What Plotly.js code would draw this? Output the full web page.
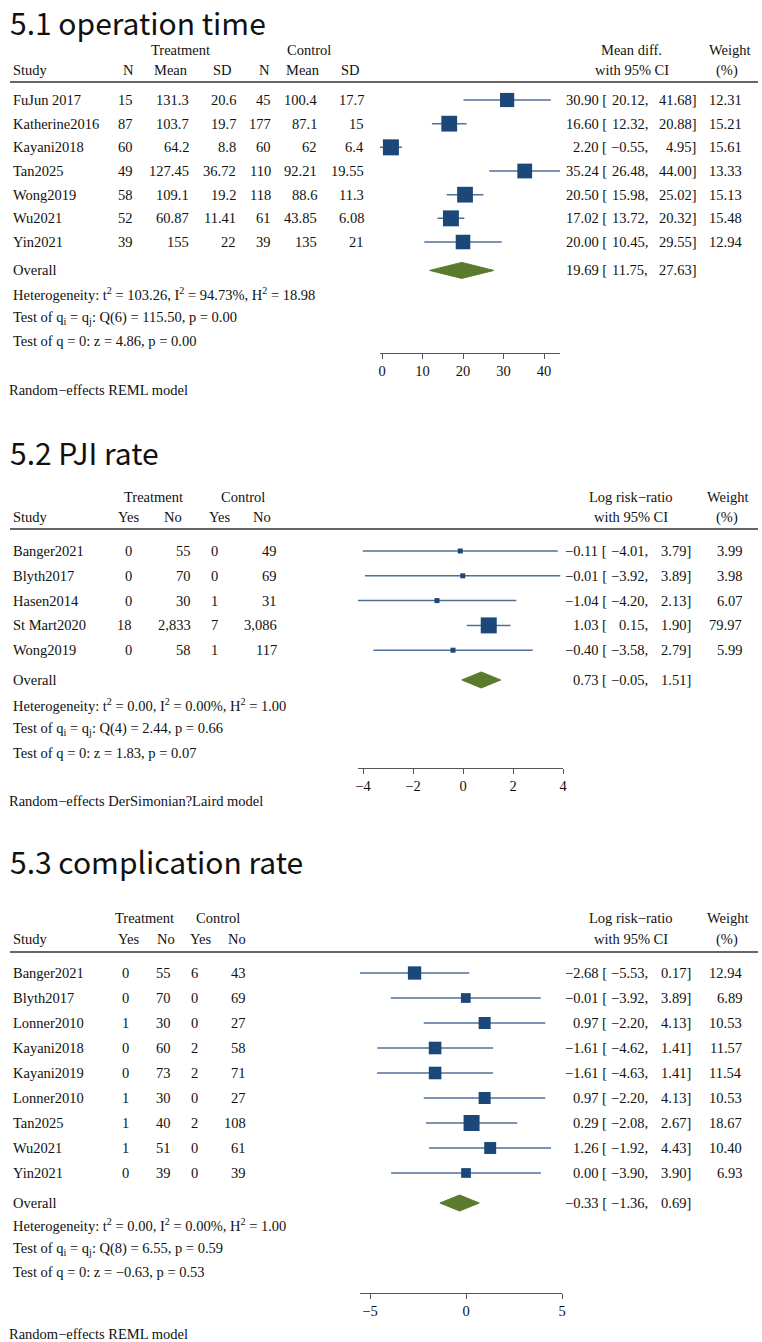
<!DOCTYPE html>
<html><head><meta charset="utf-8">
<script src="https://cdn.plot.ly/plotly-3.0.1.min.js"></script>
<style>html,body{margin:0;padding:0;background:#fff;}#chart{width:762px;height:1342px;}</style>
</head><body><div id="chart"></div>
<script>
// ---------- 5.1 operation time ----------
const opStudy = ["FuJun 2017","Katherine2016","Kayani2018","Tan2025","Wong2019","Wu2021","Yin2021"];
const opTN = [15,87,60,49,58,52,39];
const opTMean = [131.3,103.7,64.2,127.45,109.1,60.87,155];
const opTSD = [20.6,19.7,8.8,36.72,19.2,11.41,22];
const opCN = [45,177,60,110,118,61,39];
const opCMean = [100.4,87.1,62,92.21,88.6,43.85,135];
const opCSD = [17.7,15,6.4,19.55,11.3,6.08,21];
const opEst = [30.90,16.60,2.20,35.24,20.50,17.02,20.00];
const opLo = [20.12,12.32,-0.55,26.48,15.98,13.72,10.45];
const opHi = [41.68,20.88,4.95,44.00,25.02,20.32,29.55];
const opW = [12.31,15.21,15.61,13.33,15.13,15.48,12.94];
const opOverall = [19.69,11.75,27.63];
const opTicks = [0,10,20,30,40];
const opHet = ["103.26","94.73","18.98"];
const opQ = ["6","115.50","0.00"];
const opZ = ["4.86","0.00"];

// ---------- 5.2 PJI rate ----------
const pjStudy = ["Banger2021","Blyth2017","Hasen2014","St Mart2020","Wong2019"];
const pjTYes = [0,0,0,18,0];
const pjTNo = [55,70,30,2833,58];
const pjCYes = [0,0,1,7,1];
const pjCNo = [49,69,31,3086,117];
const pjEst = [-0.11,-0.01,-1.04,1.03,-0.40];
const pjLo = [-4.01,-3.92,-4.20,0.15,-3.58];
const pjHi = [3.79,3.89,2.13,1.90,2.79];
const pjW = [3.99,3.98,6.07,79.97,5.99];
const pjOverall = [0.73,-0.05,1.51];
const pjTicks = [-4,-2,0,2,4];
const pjHet = ["0.00","0.00","1.00"];
const pjQ = ["4","2.44","0.66"];
const pjZ = ["1.83","0.07"];

// ---------- 5.3 complication rate ----------
const cpStudy = ["Banger2021","Blyth2017","Lonner2010","Kayani2018","Kayani2019","Lonner2010","Tan2025","Wu2021","Yin2021"];
const cpTYes = [0,0,1,0,0,1,1,1,0];
const cpTNo = [55,70,30,60,73,30,40,51,39];
const cpCYes = [6,0,0,2,2,0,2,0,0];
const cpCNo = [43,69,27,58,71,27,108,61,39];
const cpEst = [-2.68,-0.01,0.97,-1.61,-1.61,0.97,0.29,1.26,0.00];
const cpLo = [-5.53,-3.92,-2.20,-4.62,-4.63,-2.20,-2.08,-1.92,-3.90];
const cpHi = [0.17,3.89,4.13,1.41,1.41,4.13,2.67,4.43,3.90];
const cpW = [12.94,6.89,10.53,11.57,11.54,10.53,18.67,10.40,6.93];
const cpOverall = [-0.33,-1.36,0.69];
const cpTicks = [-5,0,5];
const cpHet = ["0.00","0.00","1.00"];
const cpQ = ["8","6.55","0.59"];
const cpZ = ["−0.63","0.53"];

// ---------- rendering ----------
const W = 762, H = 1342;
const SERIF = '"Liberation Serif","Times New Roman",serif';
const TFONT = '"Noto Sans CJK SC","Noto Sans",sans-serif';
const SQ = '#1b4878', CI = '#4f7097', DIA = '#5b7b2c', TXT = '#111';
const ann = [], shapes = [], traces = [];
const layout = {width:W, height:H, margin:{l:0,r:0,t:0,b:0}, paper_bgcolor:'#fff', plot_bgcolor:'rgba(0,0,0,0)', showlegend:false};

function px(x){return x/W;} function py(y){return 1-y/H;}
function txt(x,y,text,anchor,size,family){
  ann.push({xref:'paper',yref:'paper',x:px(x),y:py(y),text:text,xanchor:anchor||'left',yanchor:'middle',
    showarrow:false,borderpad:0,font:{family:family||SERIF,size:size||14.5,color:TXT}});
}
function fmt(v){return (v<0?'−':'')+Math.abs(v).toFixed(2);}
function num(v){return v>=1000 ? v.toLocaleString('en-US') : String(v);}

function panel(p){
  const k = p.k===1 ? '' : String(p.k);
  const n = p.study.length;
  const yB = (p.axisY - p.rowY0)/p.dy, yT = (p.lineY - p.rowY0)/p.dy;
  layout['yaxis'+k] = {domain:[py(p.axisY), py(p.lineY)], range:[yB,yT], visible:false, fixedrange:true};
  const left = p.zeroPx + p.range[0]*p.unitPx, right = p.zeroPx + p.range[1]*p.unitPx;
  layout['xaxis'+k] = {domain:[px(left),px(right)], range:p.range, anchor:'y'+k, showline:true, linecolor:'#555', linewidth:1,
    ticks:'outside', ticklen:5, tickcolor:'#555', tickvals:p.ticks, showgrid:false, zeroline:false, fixedrange:true,
    tickfont:{family:SERIF,size:14.5,color:TXT}};
  const xa = 'x'+k, ya = 'y'+k;
  const rows = p.study.map((s,i)=>i);
  const ovRow = n + 0.2;
  const lx=[], ly=[];
  rows.forEach(i=>{lx.push(p.lo[i],p.hi[i],null); ly.push(i,i,null);});
  traces.push({type:'scatter',mode:'lines',x:lx,y:ly,xaxis:xa,yaxis:ya,line:{color:CI,width:1.5},hoverinfo:'skip',cliponaxis:false});
  const wmax = Math.max(...p.w);
  traces.push({type:'scatter',mode:'markers',x:p.est,y:rows,xaxis:xa,yaxis:ya,cliponaxis:false,opacity:1,
    marker:{symbol:'square',color:SQ,opacity:1,size:p.w.map(w=>Math.max(5,16*Math.sqrt(w/wmax))),line:{width:0}}});
  const hh = 8/p.dy, o = p.overall;
  traces.push({type:'scatter',mode:'lines',fill:'toself',fillcolor:DIA,line:{color:DIA,width:1},xaxis:xa,yaxis:ya,
    x:[o[1],o[0],o[2],o[0],o[1]], y:[ovRow,ovRow-hh,ovRow,ovRow+hh,ovRow],cliponaxis:false});
  txt(9,p.titleY,p.title,'left',30,TFONT);
  p.hdr1.forEach(h=>txt(h[1],p.h1Y,h[0],'center'));
  p.hdr2.forEach(h=>txt(h[1],p.h2Y,h[0],h[2]||'center'));
  shapes.push({type:'line',xref:'paper',yref:'paper',x0:px(10),x1:px(758),y0:py(p.lineY),y1:py(p.lineY),line:{color:'#333',width:1.5}});
  rows.forEach(i=>{
    const y = p.rowY0 + i*p.dy;
    txt(12,y,p.study[i],'left');
    p.cols.forEach(c=>txt(c[1],y,num(c[0][i]),'right'));
    txt(p.effA,y,fmt(p.est[i])+' [','right');
    txt(p.effB,y,fmt(p.lo[i])+',','right');
    txt(p.effC,y,fmt(p.hi[i])+']','right');
    txt(743,y,p.w[i].toFixed(2),'right');
  });
  const oy = p.rowY0 + ovRow*p.dy;
  txt(12,oy,'Overall','left');
  txt(p.effA,oy,fmt(o[0])+' [','right');
  txt(p.effB,oy,fmt(o[1])+',','right');
  txt(p.effC,oy,fmt(o[2])+']','right');
  txt(12,p.statY[0],'Heterogeneity: t<sup>2</sup> = '+p.het[0]+', I<sup>2</sup> = '+p.het[1]+'%, H<sup>2</sup> = '+p.het[2],'left');
  txt(12,p.statY[1],'Test of q<sub>i</sub> = q<sub>j</sub>: Q('+p.q[0]+') = '+p.q[1]+', p = '+p.q[2],'left');
  txt(12,p.statY[2],'Test of q = 0: z = '+p.z[0]+', p = '+p.z[1],'left');
  txt(8,p.modelY,p.model,'left');
}

panel({k:1,title:'5.1 operation time',titleY:22,h1Y:50,h2Y:70,lineY:82,
  hdr1:[['Treatment',180],['Control',309],['Mean diff.',631],['Weight',730]],
  hdr2:[['Study',12,'left'],['N',128],['Mean',171],['SD',222],['N',264],['Mean',303],['SD',350],['with 95% CI',632],['(%)',727]],
  study:opStudy, cols:[[opTN,134],[opTMean,190],[opTSD,237],[opCN,272],[opCMean,318],[opCSD,365]],
  est:opEst, lo:opLo, hi:opHi, w:opW, overall:opOverall, ticks:opTicks,
  rowY0:100, dy:23.67, axisY:353, range:[-0.55,44], zeroPx:382, unitPx:4.05,
  effA:608, effB:649, effC:697, het:opHet, q:opQ, z:opZ, statY:[294,318,341], modelY:390,
  model:'Random−effects REML model'});

panel({k:2,title:'5.2 PJI rate',titleY:452,h1Y:497,h2Y:517,lineY:529,
  hdr1:[['Treatment',153],['Control',243],['Log risk−ratio',630],['Weight',728]],
  hdr2:[['Study',12,'left'],['Yes',128],['No',173],['Yes',219],['No',262],['with 95% CI',631],['(%)',727]],
  study:pjStudy, cols:[[pjTYes,133],[pjTNo,192],[pjCYes,219],[pjCNo,278]],
  est:pjEst, lo:pjLo, hi:pjHi, w:pjW, overall:pjOverall, ticks:pjTicks,
  rowY0:551, dy:24.8, axisY:768, range:[-4.2,4], zeroPx:463, unitPx:25,
  effA:608, effB:649, effC:692, het:pjHet, q:pjQ, z:pjZ, statY:[705,729,753], modelY:801,
  model:'Random−effects DerSimonian?Laird model'});

panel({k:3,title:'5.3 complication rate',titleY:861,h1Y:918,h2Y:939,lineY:952,
  hdr1:[['Treatment',144],['Control',218],['Log risk−ratio',630],['Weight',728]],
  hdr2:[['Study',12,'left'],['Yes',128],['No',166],['Yes',200],['No',237],['with 95% CI',631],['(%)',727]],
  study:cpStudy, cols:[[cpTYes,130],[cpTNo,172],[cpCYes,199],[cpCNo,247]],
  est:cpEst, lo:cpLo, hi:cpHi, w:cpW, overall:cpOverall, ticks:cpTicks,
  rowY0:973, dy:25, axisY:1293, range:[-5.53,5], zeroPx:466, unitPx:19.2,
  effA:608, effB:649, effC:692, het:cpHet, q:cpQ, z:cpZ, statY:[1225,1249,1272], modelY:1334,
  model:'Random−effects REML model'});

layout.annotations = ann; layout.shapes = shapes;
Plotly.newPlot('chart', traces, layout, {displayModeBar:false, staticPlot:true});
</script></body></html>
